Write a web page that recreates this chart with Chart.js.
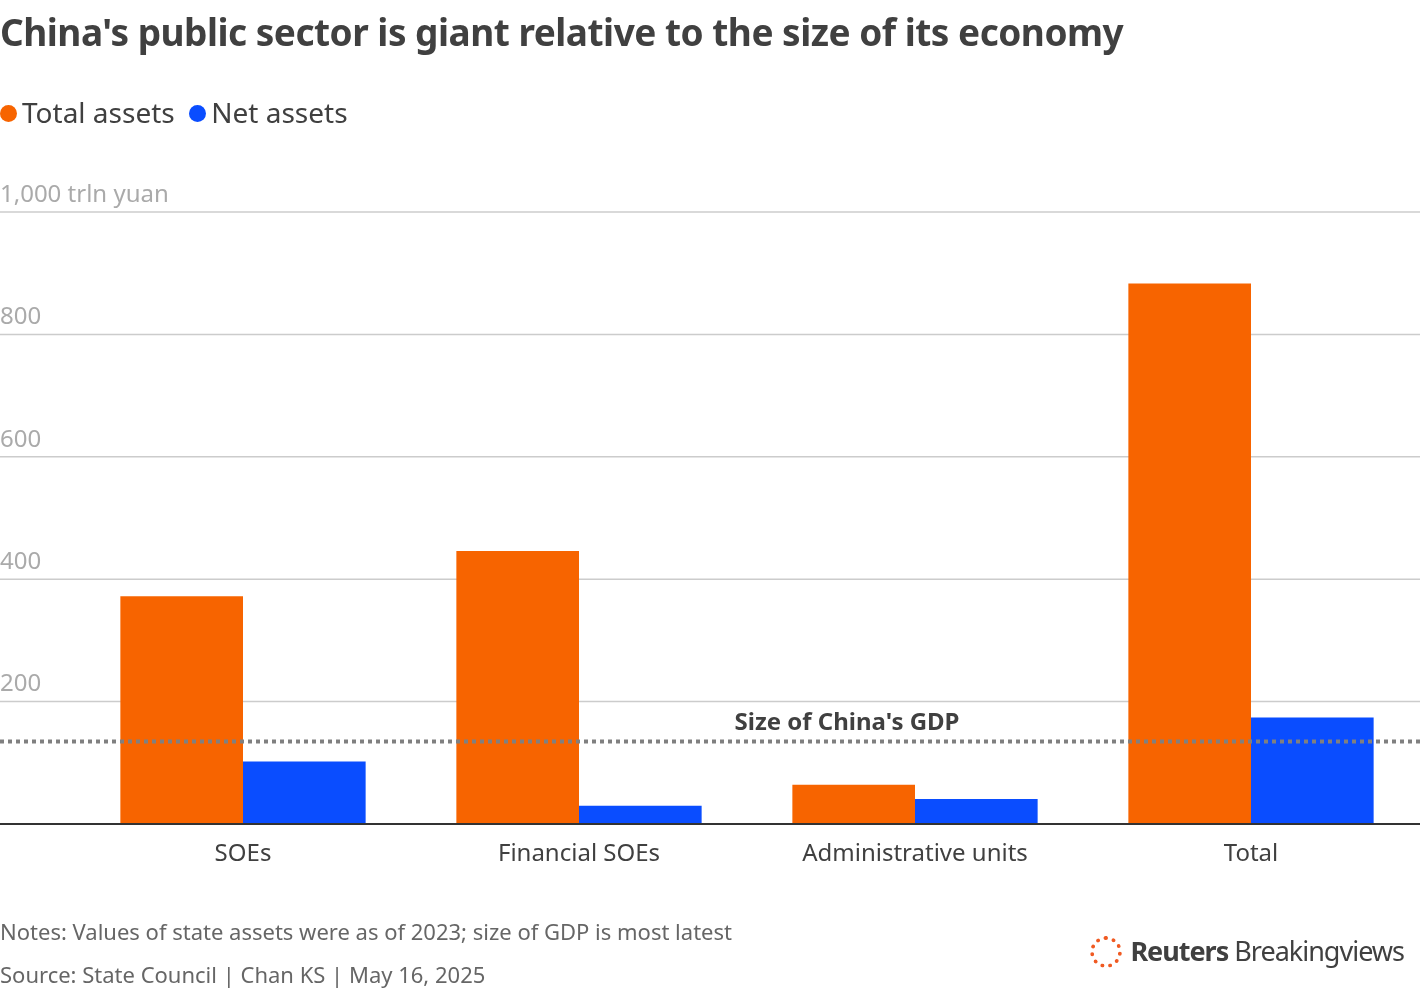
<!DOCTYPE html>
<html>
<head>
<meta charset="utf-8">
<script src="https://cdn.jsdelivr.net/npm/chart.js@4"></script>
<style>
  body { margin:0; width:1420px; height:990px; background:#fff; font-family:"Noto Sans", Lato, sans-serif; color:#404040; overflow:hidden; }
  #wrap { position:relative; width:1420px; height:990px; }
  canvas { position:absolute; left:0; top:0; }
  .abs { position:absolute; white-space:nowrap; }
  .title { left:0; top:6px; font-size:37px; font-weight:bold; letter-spacing:-0.5px; }
  .legend { left:0; top:93px; font-size:28px; }
  .legend span.dot { display:inline-block; width:17px; height:17px; border-radius:50%; margin-right:5px; vertical-align:1px; }
  .note { left:0; font-size:22px; color:#666; }
  .logo { right:16px; top:932px; font-size:27px; letter-spacing:-1px; }
  .ring { display:inline-block; width:32px; height:32px; border-radius:50%; border:4px dotted #f05a22; box-sizing:border-box; vertical-align:-7px; margin-right:8px; }
</style>
</head>
<body>
<div id="wrap">
  <canvas id="chart" width="1420" height="990"></canvas>
  <div class="abs title">China's public sector is giant relative to the size of its economy</div>
  <div class="abs legend"><span class="dot" style="background:#f76400"></span>Total assets&nbsp;&nbsp;<span class="dot" style="background:#0a4dff"></span>Net assets</div>
  <div class="abs note" style="top:916px">Notes: Values of state assets were as of 2023; size of GDP is most latest</div>
  <div class="abs note" style="top:959px">Source: State Council | Chan KS | May 16, 2025</div>
  <div class="abs logo"><span class="ring"></span><b>Reuters</b> Breakingviews</div>
</div>
<script>
const categories = ['SOEs', 'Financial SOEs', 'Administrative units', 'Total'];
const totalAssets = [372, 446, 64, 883];
const netAssets = [102, 30, 41, 174];
const yTicks = [0, 200, 400, 600, 800, 1000];
const gdpValue = 135;

// ── gridlines, tick labels, GDP line ──
const overlay = {
  id: 'overlay',
  beforeDatasetsDraw(chart) {
    const ctx = chart.ctx, y = chart.scales.y, W = chart.width;
    ctx.save();
    ctx.font = '24px "Noto Sans", Lato, sans-serif';
    ctx.textBaseline = 'bottom';
    ctx.fillStyle = '#aaaaaa';
    yTicks.forEach(v => {
      if (v === 0) return;
      const py = y.getPixelForValue(v);
      ctx.strokeStyle = '#cccccc'; ctx.lineWidth = 1.5;
      ctx.beginPath(); ctx.moveTo(0, py); ctx.lineTo(W, py); ctx.stroke();
      const label = v === 1000 ? '1,000 trln yuan' : String(v);
      ctx.fillText(label, 0, py - 5);
    });
    ctx.restore();
  },
  afterDatasetsDraw(chart) {
    const ctx = chart.ctx, y = chart.scales.y, W = chart.width;
    ctx.save();
    const p0 = y.getPixelForValue(0);
    ctx.strokeStyle = '#333'; ctx.lineWidth = 2;
    ctx.beginPath(); ctx.moveTo(0, p0); ctx.lineTo(W, p0); ctx.stroke();
    const pg = y.getPixelForValue(gdpValue);
    ctx.strokeStyle = '#808080'; ctx.lineWidth = 4; ctx.setLineDash([4, 4]);
    ctx.beginPath(); ctx.moveTo(0, pg); ctx.lineTo(W, pg); ctx.stroke();
    ctx.setLineDash([]);
    ctx.font = 'bold 24px "Noto Sans", Lato, sans-serif';
    ctx.fillStyle = '#404040'; ctx.textAlign = 'center'; ctx.textBaseline = 'bottom';
    ctx.fillText("Size of China's GDP", 847, pg - 6);
    ctx.restore();
  }
};

new Chart(document.getElementById('chart').getContext('2d'), {
  type: 'bar',
  data: {
    labels: categories,
    datasets: [
      { label: 'Total assets', data: totalAssets, backgroundColor: '#f76400' },
      { label: 'Net assets', data: netAssets, backgroundColor: '#0a4dff' }
    ]
  },
  options: {
    responsive: false,
    animation: false,
    layout: { padding: { left: 75, right: 1, top: 212, bottom: 0 } },
    plugins: { legend: { display: false }, tooltip: { enabled: false } },
    datasets: { bar: { categoryPercentage: 0.73, barPercentage: 1 } },
    scales: {
      x: {
        grid: { display: false }, border: { display: false },
        ticks: { font: { size: 24, family: '"Noto Sans", Lato, sans-serif' }, color: '#404040', padding: 8 },
        afterFit: s => { s.height = 166; }
      },
      y: {
        min: 0, max: 1000, display: false,
        afterFit: s => { s.width = 0; }
      }
    }
  },
  plugins: [overlay]
});
</script>
</body>
</html>
